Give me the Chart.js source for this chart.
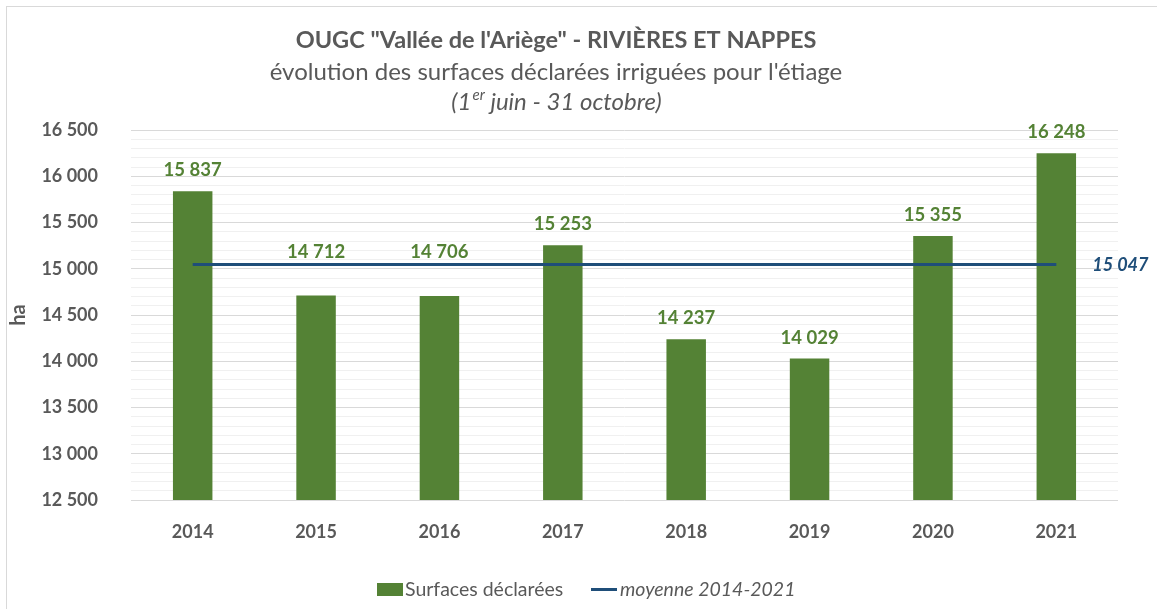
<!DOCTYPE html>
<html>
<head>
<meta charset="utf-8">
<script src="https://cdn.jsdelivr.net/npm/chart.js@4.4.1/dist/chart.umd.min.js"></script>
<style>
  html, body { margin: 0; padding: 0; background: #fff; }
  #wrap { width: 1157px; height: 609px; position: relative; }
</style>
</head>
<body>
<div id="wrap"><canvas id="ourChart" width="1157" height="609"></canvas></div>
<script>
var years = ["2014", "2015", "2016", "2017", "2018", "2019", "2020", "2021"];
var surfaces = [15837, 14712, 14706, 15253, 14237, 14029, 15355, 16248];
var moyenne = 15047;
var yTicks = [12500, 13000, 13500, 14000, 14500, 15000, 15500, 16000, 16500];

var FONT = "Lato, 'Open Sans', sans-serif";
var GREY = '#595959';
var GREEN = '#548235';
var BLUE = '#1f4e79';

function fmt(v) {
    return String(v).replace(/\B(?=(\d{3})+(?!\d))/g, ' ');
}

// titre, étiquettes, légende et cadre dessinés à la main
var drawExtras = {
    id: 'drawExtras',
    afterDatasetsDraw: function (chart) {
        var ctx = chart.ctx;
        var yScale = chart.scales.y;
        var meta = chart.getDatasetMeta(0);
        var lineMeta = chart.getDatasetMeta(1);
        var lineY = yScale.getPixelForValue(moyenne);

        ctx.save();
        // cadre
        ctx.strokeStyle = '#d9d9d9';
        ctx.lineWidth = 1;
        ctx.strokeRect(6.5, 6.5, 1160, 610);

        // titre
        ctx.fillStyle = GREY;
        ctx.textAlign = 'center';
        ctx.textBaseline = 'middle';
        ctx.font = "bold 23.5px " + FONT;
        ctx.fillText('OUGC "Vallée de l\'Ariège" - RIVIÈRES ET NAPPES', 556, 40);
        ctx.font = "24px " + FONT;
        ctx.fillText("évolution des surfaces déclarées irriguées pour l'étiage", 556, 72);

        // troisième ligne avec exposant
        var a = "(1", sup = "er", b = " juin - 31 octobre)";
        ctx.font = "italic 24px " + FONT;
        var wa = ctx.measureText(a).width, wb = ctx.measureText(b).width;
        ctx.font = "italic 15px " + FONT;
        var ws = ctx.measureText(sup).width;
        var x0 = 556 - (wa + ws + wb) / 2;
        ctx.textAlign = 'left';
        ctx.font = "italic 24px " + FONT;
        ctx.fillText(a, x0, 102);
        ctx.font = "italic 15px " + FONT;
        ctx.fillText(sup, x0 + wa + 1, 95);
        ctx.font = "italic 24px " + FONT;
        ctx.fillText(b, x0 + wa + ws + 1, 102);

        // étiquettes des barres
        ctx.textAlign = 'center';
        ctx.font = "bold 18.5px " + FONT;
        ctx.fillStyle = GREEN;
        meta.data.forEach(function (bar, i) {
            var y = bar.y - 21;
            if (Math.abs(y - lineY) < 12) y = lineY - 12;
            ctx.fillText(fmt(surfaces[i]), bar.x, y);
        });

        // étiquette de la moyenne
        var last = lineMeta.data[lineMeta.data.length - 1];
        ctx.textAlign = 'left';
        ctx.font = "italic bold 18px " + FONT;
        ctx.fillStyle = BLUE;
        ctx.fillText(fmt(moyenne), last.x + 36, lineY + 1);

        // légende
        ctx.fillStyle = GREEN;
        ctx.fillRect(377, 583, 26, 13);
        ctx.fillStyle = GREY;
        ctx.font = "19.5px " + FONT;
        ctx.fillText("Surfaces déclarées", 405, 590);
        ctx.strokeStyle = BLUE;
        ctx.lineWidth = 3;
        ctx.beginPath();
        ctx.moveTo(591, 589.5);
        ctx.lineTo(617, 589.5);
        ctx.stroke();
        ctx.font = "italic 19.5px " + FONT;
        ctx.fillText("moyenne 2014-2021", 620, 590);
        ctx.restore();
    }
};

var ourCanvas = document.getElementById('ourChart');

var chartElement = new Chart(ourCanvas, {
    type: 'bar',
    data: {
        labels: years,
        datasets: [
            {
                label: 'Surfaces déclarées',
                data: surfaces,
                backgroundColor: GREEN,
                borderWidth: 0,
                barPercentage: 0.64,
                categoryPercentage: 0.5,
                order: 1
            },
            {
                type: 'line',
                label: 'moyenne 2014-2021',
                data: years.map(function () { return moyenne; }),
                borderColor: BLUE,
                borderWidth: 3,
                pointRadius: 0,
                fill: false,
                order: 0
            }
        ]
    },
    options: {
        responsive: false,
        animation: false,
        layout: { padding: { top: 130, right: 39, bottom: 59, left: 7 } },
        plugins: {
            legend: { display: false },
            tooltip: { enabled: false }
        },
        scales: {
            x: {
                grid: { display: false },
                border: { display: false },
                ticks: {
                    color: GREY,
                    font: { family: FONT, size: 18, weight: 'bold' },
                    padding: 13
                },
                afterFit: function (scale) { scale.height = 50; }
            },
            y: {
                min: 12500,
                max: 16500,
                border: { display: false },
                grid: {
                    drawTicks: false,
                    color: function (c) {
                        return yTicks.indexOf(c.tick.value) >= 0 ? '#d9d9d9' : '#f0f0f0';
                    }
                },
                ticks: {
                    stepSize: 100,
                    autoSkip: false,
                    padding: 33,
                    color: GREY,
                    font: { family: FONT, size: 18, weight: 'bold' },
                    callback: function (v) {
                        return yTicks.indexOf(v) >= 0 ? fmt(v) : '';
                    }
                },
                title: {
                    display: true,
                    text: 'ha',
                    color: GREY,
                    font: { family: FONT, size: 20, weight: 'bold' },
                    padding: { top: 0, bottom: 0 }
                },
                afterFit: function (scale) { scale.width = 124; }
            }
        }
    },
    plugins: [drawExtras]
});
</script>
</body>
</html>
